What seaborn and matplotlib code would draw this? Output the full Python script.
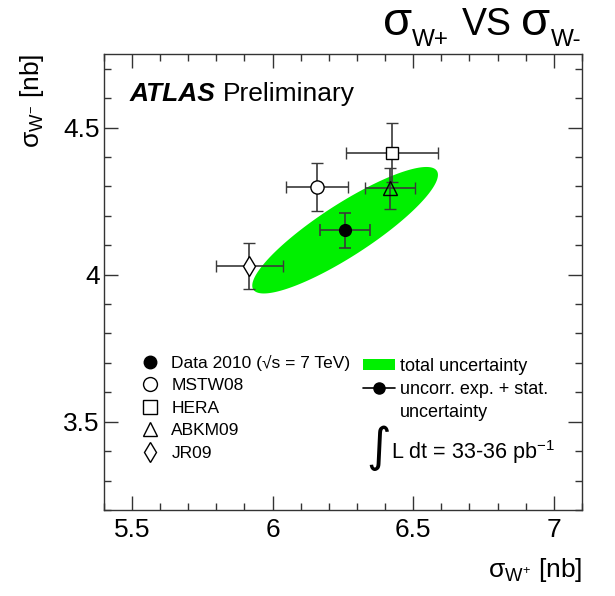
import numpy as np
import matplotlib
matplotlib.use("Agg")
import matplotlib.pyplot as plt
from matplotlib.lines import Line2D
from matplotlib.patches import Patch
from matplotlib.ticker import MultipleLocator
import seaborn as sns

# ---------------- data ----------------
models = ["MSTW08", "HERA", "ABKM09", "JR09"]
model_x = [6.157, 6.424, 6.418, 5.917]
model_y = [4.298, 4.415, 4.293, 4.029]
model_xerr = [0.11, 0.163, 0.09, 0.119]
model_yerr = [0.08, 0.10, 0.07, 0.078]
model_markers = ["o", "s", "^", "d"]

data_label = "Data 2010 (√s = 7 TeV)"
data_x = 6.258
data_y = 4.151
data_xerr = 0.088
data_yerr = 0.059

# total-uncertainty ellipse: sigma_x, sigma_y, correlation
ell_sx = 0.33
ell_sy = 0.215
ell_rho = 0.875

x_ticks = [5.5, 6, 6.5, 7]
y_ticks = [3.5, 4, 4.5]

# ---------------- style ----------------
sns.set_theme(style="ticks")
plt.rcParams["font.family"] = ["Liberation Sans", "DejaVu Sans"]
plt.rcParams["mathtext.fontset"] = "custom"
plt.rcParams["mathtext.rm"] = "Liberation Sans"
plt.rcParams["mathtext.it"] = "Liberation Sans:italic"
plt.rcParams["mathtext.bf"] = "Liberation Sans:bold"
plt.rcParams["text.color"] = "black"
plt.rcParams["axes.labelcolor"] = "black"

fig = plt.figure(figsize=(6.15, 5.96), dpi=100)
W, H = 615, 596
ax = fig.add_axes([103.7 / W, 1 - 510 / H, (582 - 103.7) / W, (510 - 54) / H])

green = "#00f000"
ecol = "#3a3a3a"

# ellipse from covariance parameters
t = np.linspace(0, 2 * np.pi, 400)
ex = data_x + ell_sx * np.cos(t)
ey = data_y + ell_sy * (ell_rho * np.cos(t) + np.sqrt(1 - ell_rho ** 2) * np.sin(t))
ax.fill(ex, ey, color=green, lw=0, zorder=1)

# model points
for i, m in enumerate(models):
    mfc = "none" if model_markers[i] == "^" else "white"
    ms = {"o": 9.5, "s": 8.5, "^": 9.5, "d": 10}[model_markers[i]]
    ax.errorbar(model_x[i], model_y[i], xerr=model_xerr[i], yerr=model_yerr[i],
                fmt=model_markers[i], mfc=mfc, mec="black", mew=1.0, ms=ms,
                ecolor=ecol, elinewidth=1.2, capsize=4, capthick=1.2, zorder=3)

# data point
ax.errorbar(data_x, data_y, xerr=data_xerr, yerr=data_yerr, fmt="o",
            color="black", ms=8.5, ecolor=ecol, elinewidth=1.2, capsize=4,
            capthick=1.2, zorder=4)

ax.set_xlim(5.4, 7.1)
ax.set_ylim(3.2, 4.75)
ax.set_xticks(x_ticks)
ax.set_xticklabels([f"{v:g}" for v in x_ticks])
ax.set_yticks(y_ticks)
ax.set_yticklabels([f"{v:g}" for v in y_ticks])
ax.xaxis.set_minor_locator(MultipleLocator(0.1))
ax.yaxis.set_minor_locator(MultipleLocator(0.1))
ax.tick_params(which="both", direction="in", top=True, right=True,
               color="#333333", width=1.0, labelsize=19, labelcolor="black")
ax.tick_params(which="major", length=10)
ax.tick_params(which="minor", length=5)
ax.tick_params(axis="x", pad=6)
ax.tick_params(axis="y", pad=3)
for s in ax.spines.values():
    s.set_color("#333333")
    s.set_linewidth(1.0)
ax.set_facecolor("white")

ax.set_xlabel("σ$_{\\mathrm{W^{+}}}$ [nb]", fontsize=19, loc="right", labelpad=10)
ax.set_ylabel("σ$_{\\mathrm{W^{-}}}$ [nb]", fontsize=19, loc="top", labelpad=12)

# legends
left_handles = [Line2D([], [], ls="none", marker="o", color="black", ms=9)]
for i, m in enumerate(models):
    left_handles.append(Line2D([], [], ls="none", marker=model_markers[i],
                               mfc="white", mec="black", mew=1.0, ms=10))
leg1 = ax.legend(left_handles, [data_label] + models, loc="upper left",
                 bbox_to_anchor=((141 - 103.7) / 478.3, (510 - 355) / 456),
                 frameon=False, fontsize=12.5, handlelength=1.0,
                 handletextpad=0.75, labelspacing=0.42, borderpad=0,
                 borderaxespad=0)
ax.add_artist(leg1)

right_handles = [Patch(facecolor=green, edgecolor="none"),
                 Line2D([], [], color="black", marker="o", ms=8, lw=1.2),
                 Line2D([], [], ls="none")]
leg2 = ax.legend(right_handles, ["total uncertainty", "uncorr. exp. + stat.", "uncertainty"],
                 loc="upper left",
                 bbox_to_anchor=((363 - 103.7) / 478.3, (510 - 358) / 456),
                 frameon=False, fontsize=13, handlelength=1.75, handleheight=0.55,
                 handletextpad=0.3, labelspacing=0.32, borderpad=0, borderaxespad=0)

# integral luminosity
fig.text(366 / W, 1 - 448 / H, "∫", fontsize=34, family="DejaVu Sans",
         ha="left", va="center")
fig.text(391 / W, 1 - 459 / H, "L dt = 33-36 pb$^{\\mathrm{-1}}$", fontsize=15.5,
         ha="left", va="baseline")

# ATLAS label
ta = fig.text(130 / W, 1 - 101 / H, "ATLAS", fontsize=19, fontweight="bold",
              fontstyle="italic", ha="left", va="baseline")
ax.annotate("Preliminary", xy=(1, 1 - 101 / H), xycoords=(ta, "figure fraction"),
            xytext=(5, 0), textcoords="offset points", fontsize=19,
            ha="left", va="baseline", annotation_clip=False)

# title  sigma_W+ VS sigma_W-
base = 1 - 35 / H
sub = 1 - 46 / H
t1 = fig.text(383 / W, base, "σ", fontsize=34, ha="left", va="baseline")
t2 = ax.annotate("W+", xy=(1, sub), xycoords=(t1, "figure fraction"),
                 xytext=(0, 0), textcoords="offset points", fontsize=17.5,
                 ha="left", va="baseline", annotation_clip=False)
t3 = ax.annotate("VS", xy=(1, base), xycoords=(t2, "figure fraction"),
                 xytext=(9, 0), textcoords="offset points", fontsize=27,
                 ha="left", va="baseline", annotation_clip=False)
t4 = ax.annotate("σ", xy=(1, base), xycoords=(t3, "figure fraction"),
                 xytext=(7, 0), textcoords="offset points", fontsize=34,
                 ha="left", va="baseline", annotation_clip=False)
ax.annotate("W-", xy=(1, sub), xycoords=(t4, "figure fraction"),
            xytext=(0, 0), textcoords="offset points", fontsize=17.5,
            ha="left", va="baseline", annotation_clip=False)

fig.savefig("out.png", dpi=100, facecolor="white")
